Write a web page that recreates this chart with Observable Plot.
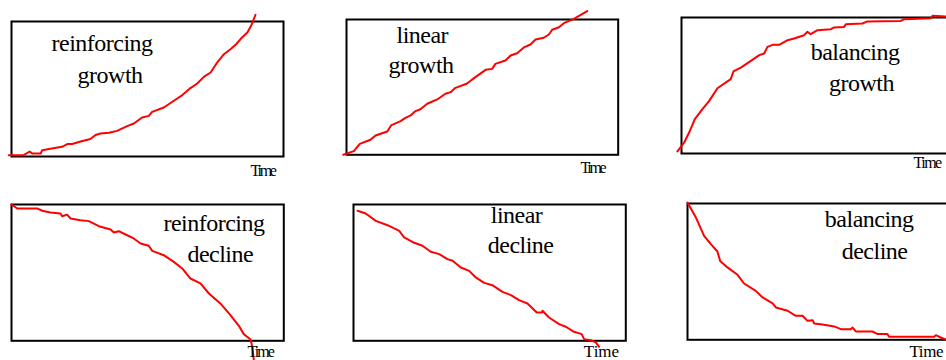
<!DOCTYPE html>
<html>
<head>
<meta charset="utf-8">
<script src="https://cdn.jsdelivr.net/npm/d3@7"></script>
<script src="https://cdn.jsdelivr.net/npm/@observablehq/plot@0.6"></script>
<style>
html, body { margin: 0; padding: 0; background: #fff; overflow: hidden; }
#chart { position: relative; width: 946px; height: 360px; overflow: hidden; background: #fff; }
#chart svg { position: absolute; }
#chart svg text { font-family: "Liberation Serif", "Times New Roman", "DejaVu Serif", serif !important; }
</style>
</head>
<body>
<div id="chart"></div>
<script>
// ---- Data: time (0..100 across the box) and value (0..100 up the box) ----
const reinforcingGrowthTime  = [-1.0, 4.5, 6.7, 7.6, 10.7, 11.3, 14.3, 18.6, 20.5, 22.3, 25.4, 29.0, 30.9, 32.7, 35.8, 38.8, 39.4, 42.5, 45.0, 48.0, 50.5, 51.7, 56.0, 59.7, 62.8, 65.8, 68.3, 70.7, 73.2, 75.6, 78.1, 80.5, 82.4, 84.2, 86.7, 88.1, 89.7];
const reinforcingGrowthValue = [1.0, 1.0, 3.7, 2.2, 2.2, 4.7, 5.7, 7.2, 9.2, 9.2, 11.1, 12.9, 15.9, 17.0, 17.6, 19.0, 19.6, 22.5, 24.4, 28.9, 30.1, 33.1, 36.3, 41.3, 45.5, 50.7, 54.1, 59.0, 62.2, 69.6, 75.8, 79.5, 82.7, 87.0, 91.9, 96.8, 105.0];

const linearGrowthTime  = [-1.2, 2.7, 4.9, 8.8, 10.7, 15.0, 16.4, 19.9, 21.7, 23.6, 25.4, 27.2, 29.7, 33.4, 36.4, 38.3, 40.1, 44.2, 46.3, 51.2, 53.6, 54.8, 58.5, 60.4, 62.8, 65.5, 67.7, 69.6, 72.6, 74.5, 75.7, 78.2, 80.0, 83.7, 88.6];
const linearGrowthValue = [0.0, 2.7, 8.1, 11.1, 14.3, 17.2, 21.7, 24.9, 27.3, 29.1, 32.3, 33.7, 37.7, 40.9, 45.1, 46.3, 49.5, 52.5, 55.7, 62.8, 63.5, 67.2, 69.7, 73.4, 75.1, 79.6, 81.5, 85.2, 86.5, 88.9, 92.4, 94.3, 97.3, 100.5, 106.2];

const balancingGrowthTime  = [-1.5, 1.0, 2.8, 4.9, 7.7, 10.2, 13.2, 18.1, 19.1, 21.8, 25.5, 28.6, 30.4, 31.6, 33.5, 35.9, 39.0, 41.4, 45.1, 46.3, 47.5, 50.0, 54.9, 55.9, 59.8, 60.4, 66.5, 68.4, 80.6, 81.9, 91.7, 92.3, 97.5, 100.0];
const balancingGrowthValue = [1.5, 8.1, 15.4, 25.2, 32.6, 38.7, 48.0, 54.7, 60.3, 63.2, 68.1, 72.3, 73.5, 78.4, 79.9, 79.9, 83.3, 84.6, 87.0, 89.5, 87.7, 90.7, 91.4, 92.6, 93.1, 95.1, 95.6, 97.1, 97.5, 98.8, 99.5, 101.2, 100.7, 100.7];

const reinforcingDeclineTime  = [0.0, 2.1, 9.4, 11.3, 14.3, 18.0, 18.6, 20.4, 21.7, 25.3, 28.4, 32.1, 36.4, 37.6, 39.4, 41.9, 44.9, 47.4, 50.4, 51.7, 55.9, 59.6, 62.7, 65.7, 69.4, 72.5, 76.7, 80.4, 83.5, 85.3, 87.8, 88.4, 89.0];
const reinforcingDeclineValue = [100.0, 97.1, 97.1, 95.4, 94.1, 93.4, 91.4, 92.6, 89.7, 88.5, 87.8, 84.1, 81.7, 79.5, 80.4, 78.0, 75.1, 71.4, 69.7, 66.0, 62.8, 57.9, 53.1, 45.7, 42.1, 34.7, 27.4, 18.8, 11.0, 4.9, 1.0, -4.4, -14.2];

const linearDeclineTime  = [1.5, 4.5, 8.2, 12.5, 16.8, 18.6, 22.3, 25.3, 28.4, 31.5, 34.5, 36.4, 39.4, 42.5, 44.9, 48.0, 51.0, 54.7, 57.8, 60.8, 63.9, 67.3, 69.2, 69.4, 71.8, 75.5, 78.0, 81.0, 83.8, 84.7, 87.1, 89.0, 90.2];
const linearDeclineValue = [95.4, 93.4, 88.0, 84.8, 80.7, 75.8, 71.9, 69.7, 65.3, 63.6, 59.9, 58.7, 53.8, 51.3, 46.5, 42.5, 40.8, 35.9, 33.5, 29.8, 27.4, 20.8, 20.8, 22.0, 17.1, 12.2, 10.3, 6.6, 4.9, 1.2, 0.5, -1.2, -4.4];

const balancingDeclineTime  = [0.0, 3.1, 6.1, 8.6, 11.0, 12.0, 14.7, 18.4, 20.8, 25.1, 27.6, 31.3, 32.5, 36.8, 39.8, 42.3, 44.1, 46.0, 46.6, 50.2, 53.9, 56.4, 60.0, 60.7, 61.9, 68.0, 69.9, 73.5, 74.1, 90.7, 91.3, 93.1, 95.3, 96.0];
const balancingDeclineValue = [100.7, 89.7, 76.3, 70.2, 64.8, 57.9, 53.1, 47.7, 41.3, 35.9, 31.1, 26.7, 23.7, 21.3, 17.6, 17.6, 13.9, 14.4, 12.0, 11.0, 9.8, 7.8, 7.8, 9.0, 6.1, 6.1, 4.2, 4.2, 2.2, 2.2, 3.4, 1.7, 0.0, 0.0];

// ---- Labels ----
const panelTitles = [
  ["reinforcing", "growth"],
  ["linear", "growth"],
  ["balancing", "growth"],
  ["reinforcing", "decline"],
  ["linear", "decline"],
  ["balancing", "decline"]
];
const axisLabel = "Time";

// ---- Layout (pixels) and label placement (chart units) ----
const panels = [
  {time: reinforcingGrowthTime, value: reinforcingGrowthValue, box: {left: 11, top: 20.7, width: 272, height: 135},
   labelPos: [[14.7, 77.8], [24.3, 54.8]], timePos: [87.9, -14.3], timeSize: 16, timeSpacing: -2.3},
  {time: linearGrowthTime, value: linearGrowthValue, box: {left: 346, top: 19, width: 271.7, height: 135.3},
   labelPos: [[18.4, 82.5], [15.5, 60.1]], timePos: [86.1, -13.8], timeSize: 16, timeSpacing: -2.3},
  {time: balancingGrowthTime, value: balancingGrowthValue, box: {left: 680.7, top: 16.7, width: 272, height: 136},
   labelPos: [[47.5, 68.7], [54.2, 45.6]], timePos: [85.3, -11.0], timeSize: 16, timeSpacing: -1.5},
  {time: reinforcingDeclineTime, value: reinforcingDeclineValue, box: {left: 11, top: 204.3, width: 272.3, height: 136.3},
   labelPos: [[55.8, 80.7], [64.6, 58.0]], timePos: [86.7, -11.6], timeSize: 16, timeSpacing: -2.0},
  {time: linearDeclineTime, value: linearDeclineValue, box: {left: 352.7, top: 204.3, width: 272.3, height: 136.3},
   labelPos: [[50.4, 86.6], [49.3, 64.1]], timePos: [84.6, -11.6], timeSize: 17, timeSpacing: 0},
  {time: balancingDeclineTime, value: balancingDeclineValue, box: {left: 686.7, top: 202.7, width: 272, height: 136.3},
   labelPos: [[50.5, 82.4], [56.7, 59.2]], timePos: [81.6, -12.6], timeSize: 17, timeSpacing: -0.4}
];

const margin = {top: 20, right: 40, bottom: 26, left: 16};
const serif = "Liberation Serif, Times New Roman, DejaVu Serif, serif";
const chart = document.getElementById("chart");

panels.forEach((p, i) => {
  const lineData = p.time.map((t, k) => ({t, v: p.value[k]}));
  const labels = panelTitles[i].map((text, k) => ({text, t: p.labelPos[k][0], v: p.labelPos[k][1]}));
  const timeData = [{text: axisLabel, t: p.timePos[0], v: p.timePos[1]}];
  const svg = Plot.plot({
    width: p.box.width + margin.left + margin.right,
    height: p.box.height + margin.top + margin.bottom,
    marginTop: margin.top, marginRight: margin.right, marginBottom: margin.bottom, marginLeft: margin.left,
    x: {domain: [0, 100], axis: null},
    y: {domain: [0, 100], axis: null},
    style: {background: "transparent", overflow: "visible", fontFamily: serif},
    marks: [
      Plot.frame({stroke: "#000", strokeWidth: 2}),
      Plot.line(lineData, {x: "t", y: "v", stroke: "#ff0000", strokeWidth: 2, curve: "linear"}),
      Plot.text(labels, {x: "t", y: "v", text: "text", textAnchor: "start", lineAnchor: "bottom",
        fontSize: 24, fontFamily: serif, fill: "#000"}),
      Plot.text(timeData, {x: "t", y: "v", text: "text", textAnchor: "start", lineAnchor: "bottom",
        fontSize: p.timeSize, fontFamily: serif, fill: "#000"})
    ]
  });
  d3.select(svg).selectAll("text").each(function () {
    const el = d3.select(this);
    if (this.textContent === axisLabel) el.attr("letter-spacing", p.timeSpacing);
    else el.attr("letter-spacing", -0.5);
  });
  svg.style.left = (p.box.left - margin.left) + "px";
  svg.style.top = (p.box.top - margin.top) + "px";
  svg.style.maxWidth = "none";
  chart.appendChild(svg);
});
</script>
</body>
</html>
